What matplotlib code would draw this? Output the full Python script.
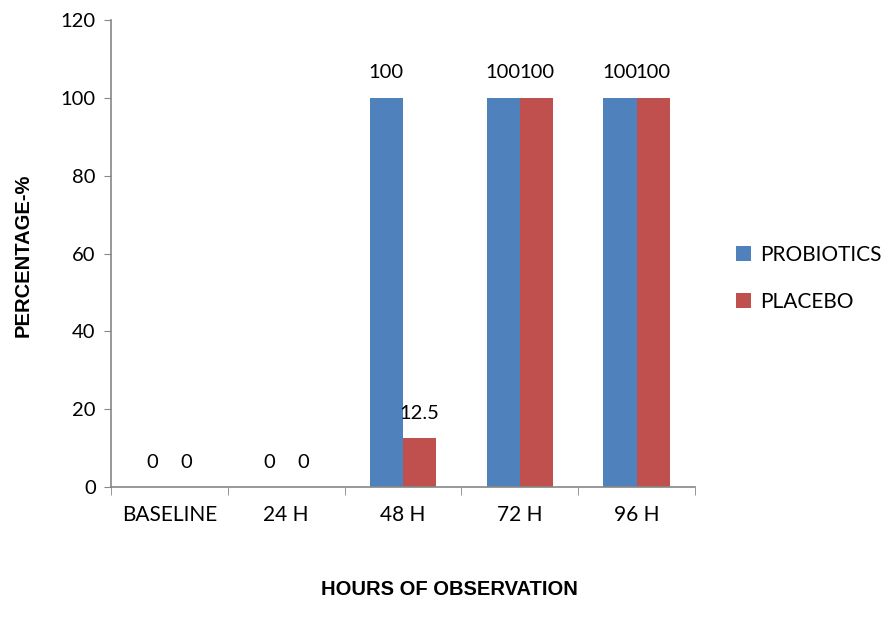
import matplotlib
matplotlib.use("Agg")
import matplotlib.pyplot as plt
import numpy as np

categories = ["BASELINE", "24 H", "48 H", "72 H", "96 H"]
probiotics = [0, 0, 100, 100, 100]
placebo = [0, 0, 12.5, 100, 100]

BLUE = "#4F81BD"
RED = "#C0504D"
AXIS = "#868686"
FONT = "Lato"
FS = 14.5

fig = plt.figure(figsize=(8.9, 6.28), dpi=100)
ax = fig.add_axes([0.1247, 0.2245, 0.6563, 0.7435])

x = np.arange(len(categories))
w = 0.285
b1 = ax.bar(x - w / 2, probiotics, w, color=BLUE, label="PROBIOTICS")
b2 = ax.bar(x + w / 2, placebo, w, color=RED, label="PLACEBO")

# value labels above each bar
for bars, vals in ((b1, probiotics), (b2, placebo)):
    for rect, v in zip(bars, vals):
        txt = ("%g" % v)
        ax.annotate(txt, (rect.get_x() + rect.get_width() / 2, v),
                    xytext=(0, 18), textcoords="offset points",
                    ha="center", va="center", fontsize=FS, family=FONT)

ax.set_xlim(-0.5, len(categories) - 0.5)
ax.set_ylim(0, 120)
ax.set_yticks(range(0, 121, 20))
ax.set_yticklabels([str(v) for v in range(0, 121, 20)], fontsize=FS, family=FONT)

ax.set_xticks(x)
ax.set_xticklabels(categories, fontsize=15, family=FONT)
ax.set_xticks(np.arange(-0.5, len(categories), 1), minor=True)
ax.tick_params(axis="x", which="major", length=0, pad=13)
ax.tick_params(axis="x", which="minor", length=6, color=AXIS, direction="out")
ax.tick_params(axis="y", length=5, color=AXIS, direction="out", pad=6)

for side in ("top", "right"):
    ax.spines[side].set_visible(False)
for side in ("left", "bottom"):
    ax.spines[side].set_color(AXIS)
    ax.spines[side].set_linewidth(1.2)

fig.text(0.505, 0.062, "HOURS OF OBSERVATION", ha="center", va="center",
         fontsize=14.5, fontweight="bold", family="Liberation Sans")
fig.text(0.026, 0.594, "PERCENTAGE-%", ha="center", va="center", rotation=90,
         fontsize=14.5, fontweight="bold", family="Liberation Sans")

leg = fig.legend(handles=[b1, b2], loc="upper left", bbox_to_anchor=(0.806, 0.64),
                 frameon=False, prop={"family": FONT, "size": 15},
                 handlelength=0.7, handleheight=0.7, labelspacing=1.3, handletextpad=0.45)

fig.savefig("out.png", dpi=100)
